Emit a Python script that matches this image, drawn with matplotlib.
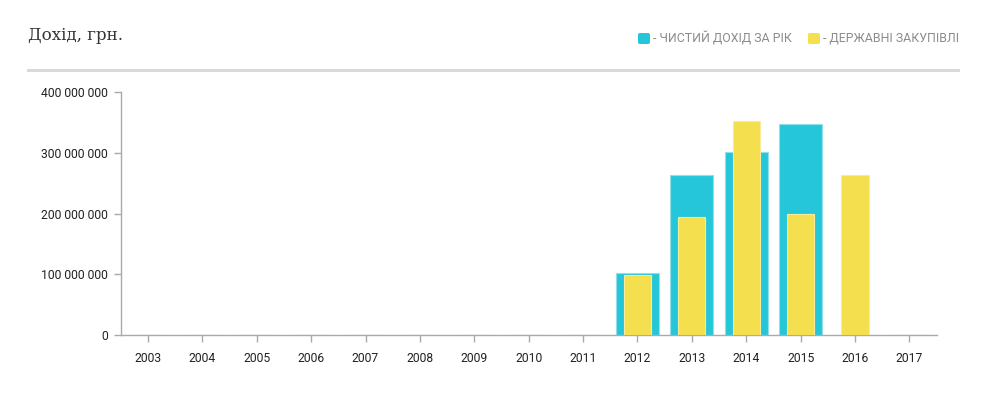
import matplotlib.pyplot as plt
from matplotlib.patches import FancyBboxPatch
from matplotlib.lines import Line2D
from matplotlib.ticker import FuncFormatter

years = ['2003', '2004', '2005', '2006', '2007', '2008', '2009', '2010',
         '2011', '2012', '2013', '2014', '2015', '2016', '2017']
net_income = [0, 0, 0, 0, 0, 0, 0, 0, 0, 103e6, 263e6, 302e6, 347e6, 0, 0]
procurement = [0, 0, 0, 0, 0, 0, 0, 0, 0, 99e6, 194e6, 352e6, 199e6, 263e6, 0]
yticks = [0, 100e6, 200e6, 300e6, 400e6]

teal = '#26c6da'
yellow = '#f4df4e'

fig = plt.figure(figsize=(9.86, 3.94), dpi=100)
ax = fig.add_axes([120.7 / 986, 1 - 335.3 / 394, 816 / 986, (335.3 - 92) / 394])

x = list(range(len(years)))
ax.bar(x, net_income, width=0.79, color=teal, edgecolor='#8fe0ea', linewidth=0.8, zorder=2)
ax.bar(x, procurement, width=0.5, color=yellow, edgecolor='#f8ec9a', linewidth=0.8, zorder=3)

ax.set_xlim(-0.5, len(years) - 0.5)
ax.set_ylim(0, 400e6)
ax.set_xticks(x)
ax.set_xticklabels(years)
ax.set_yticks(yticks)
ax.yaxis.set_major_formatter(FuncFormatter(lambda v, p: '{:,.0f}'.format(v).replace(',', ' ')))

for s in ['top', 'right']:
    ax.spines[s].set_visible(False)
for s in ['left', 'bottom']:
    ax.spines[s].set_color('#aaaaaa')
    ax.spines[s].set_linewidth(1)
ax.tick_params(axis='both', colors='#aaaaaa', length=5, width=1, labelcolor='#222222',
               labelsize=8.7, pad=4)
for lab in ax.get_xticklabels() + ax.get_yticklabels():
    lab.set_fontfamily('Roboto')
ax.tick_params(axis='x', pad=7)

# заголовок и линия
fig.text(28 / 986, 1 - 36 / 394, 'Дохід, грн.', fontsize=12, family='DejaVu Serif',
         color='#333333', va='center', ha='left')
fig.add_artist(Line2D([28 / 986, 958 / 986], [1 - 70 / 394, 1 - 70 / 394],
                      color='#d9d9d9', linewidth=2.2, transform=fig.transFigure))

# легенда
for x0, col, txt in [(638, teal, '- ЧИСТИЙ ДОХІД ЗА РІК'), (808, yellow, '- ДЕРЖАВНІ ЗАКУПІВЛІ')]:
    box = FancyBboxPatch((x0 / 986, 1 - 44 / 394), 12 / 986, 11 / 394,
                         boxstyle='round,pad=0,rounding_size=0.003',
                         facecolor=col, edgecolor='none', transform=fig.transFigure)
    fig.add_artist(box)
    fig.text((x0 + 15) / 986, 1 - 38.5 / 394, txt, fontsize=8.9, family='Roboto',
             color='#8c8c8c', va='center', ha='left')

fig.savefig('out.png', dpi=100)
